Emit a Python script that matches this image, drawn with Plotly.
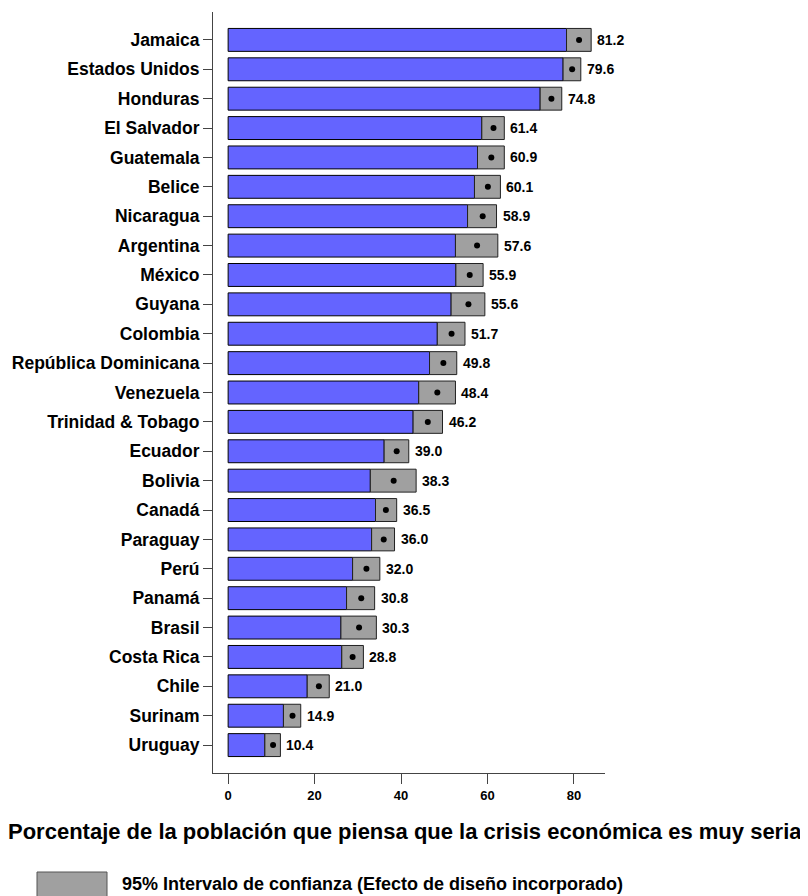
import plotly.graph_objects as go

countries = ["Jamaica", "Estados Unidos", "Honduras", "El Salvador", "Guatemala", "Belice",
             "Nicaragua", "Argentina", "México", "Guyana", "Colombia", "República Dominicana",
             "Venezuela", "Trinidad & Tobago", "Ecuador", "Bolivia", "Canadá", "Paraguay",
             "Perú", "Panamá", "Brasil", "Costa Rica", "Chile", "Surinam", "Uruguay"]
values = [81.2, 79.6, 74.8, 61.4, 60.9, 60.1, 58.9, 57.6, 55.9, 55.6, 51.7, 49.8,
          48.4, 46.2, 39.0, 38.3, 36.5, 36.0, 32.0, 30.8, 30.3, 28.8, 21.0, 14.9, 10.4]
ci_low = [78.3, 77.5, 72.2, 58.7, 57.7, 57.0, 55.4, 52.6, 52.7, 51.6, 48.4, 46.6,
          44.1, 42.8, 36.1, 32.9, 34.1, 33.2, 28.8, 27.4, 26.1, 26.3, 18.3, 12.8, 8.5]
ci_high = [84.0, 81.6, 77.2, 63.9, 63.9, 63.0, 62.1, 62.4, 59.0, 59.4, 54.8, 52.9,
           52.6, 49.6, 41.8, 43.5, 39.0, 38.5, 35.1, 33.9, 34.3, 31.3, 23.4, 16.8, 12.1]
x_ticks = [0, 20, 40, 60, 80]

title_text = "Porcentaje de la población que piensa que la crisis económica es muy seria"
legend_text = "95% Intervalo de confianza (Efecto de diseño incorporado)"

FONT = "Liberation Sans"
BLUE = "#6464FF"
GREY = "#A0A0A0"

W, H = 800, 888
L, R, T, B = 205, 203, 4, 123
PW, PH = W - L - R, H - T - B


def px(xf):
    return (xf - L) / PW


def py(yf):
    return (H - B - yf) / PH


fig = go.Figure()
fig.add_trace(go.Bar(
    y=countries, x=ci_low, orientation="h", width=0.78,
    marker=dict(color=BLUE, line=dict(color="black", width=1)),
    showlegend=False, hoverinfo="skip"))
fig.add_trace(go.Bar(
    y=countries, x=[h - l for h, l in zip(ci_high, ci_low)], base=ci_low,
    orientation="h", width=0.78,
    marker=dict(color=GREY, line=dict(color="#222222", width=1)),
    showlegend=False, hoverinfo="skip"))
fig.add_trace(go.Scatter(
    y=countries, x=values, mode="markers",
    marker=dict(color="black", size=6), showlegend=False, hoverinfo="skip"))

annotations = [
    dict(x=hi, y=c, xref="x", yref="y", text=f"{v:.1f}", xanchor="left", yanchor="middle",
         xshift=4, showarrow=False,
         font=dict(family=FONT, size=14, color="black", weight="bold"))
    for c, v, hi in zip(countries, values, ci_high)
]
annotations += [
    dict(text=title_text, xref="paper", yref="paper",
         x=px(397), y=py(823), xanchor="center", yanchor="middle",
         showarrow=False, font=dict(family=FONT, size=22, color="black", weight="bold")),
    dict(text=legend_text, xref="paper", yref="paper",
         x=px(112), y=py(876), xanchor="left", yanchor="middle",
         showarrow=False, font=dict(family=FONT, size=18, color="black", weight="bold")),
]

fig.update_layout(
    width=W, height=H,
    margin=dict(l=L, r=R, t=T, b=B),
    paper_bgcolor="white", plot_bgcolor="white",
    barmode="overlay",
    font=dict(family=FONT, color="black"),
    xaxis=dict(
        range=[-3.5, 87.2], tickvals=x_ticks, ticktext=[str(t) for t in x_ticks],
        showgrid=False, zeroline=False, showline=True, linecolor="#444444", linewidth=1,
        ticks="outside", ticklen=10, tickcolor="#444444",
        tickfont=dict(family=FONT, size=13, color="black", weight="bold")),
    yaxis=dict(
        type="category", categoryorder="array", categoryarray=countries[::-1],
        range=[-0.95, 24.95],
        showgrid=False, zeroline=False, showline=True, linecolor="#444444", linewidth=1,
        ticks="outside", ticklen=9, tickcolor="#444444",
        tickfont=dict(family=FONT, size=17.5, color="black", weight="bold")),
    shapes=[dict(type="rect", xref="paper", yref="paper",
                 x0=px(29), x1=px(99), y0=py(892), y1=py(864),
                 fillcolor=GREY, line=dict(color="#555555", width=1))],
    annotations=annotations,
)

fig.write_html("out.html")
